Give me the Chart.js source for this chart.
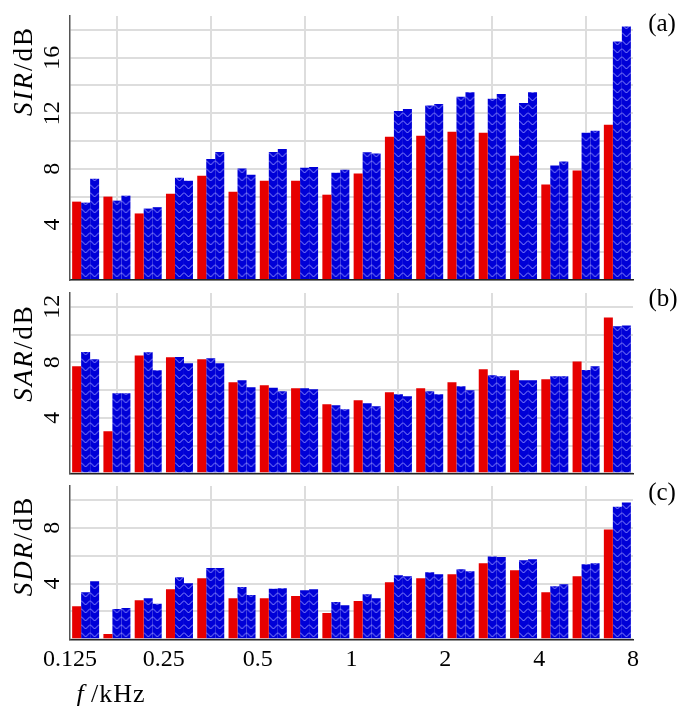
<!DOCTYPE html>
<html>
<head>
<meta charset="utf-8">
<script src="https://cdn.jsdelivr.net/npm/chart.js@4.4.1/dist/chart.umd.min.js"></script>
<style>
  html, body { margin: 0; padding: 0; background: #fff; width: 692px; height: 706px; overflow: hidden; }
  .wrap { position: absolute; left: 0; width: 692px; }
  canvas { display: block; }
  .lbl { position: absolute; font-family: "Liberation Serif", "Times New Roman", serif; color: #000;
         white-space: nowrap; line-height: 1; transform: translate(-50%, -50%); z-index: 5; }
  .ylab { transform: translate(-50%, -50%) rotate(-90deg); font-size: 27px; letter-spacing: 2px; }
  .plab { font-size: 25px; }
</style>
</head>
<body>
<div class="wrap" style="top:0px;height:286px"><canvas id="cA" width="692" height="286"></canvas></div>
<div class="wrap" style="top:286px;height:194px"><canvas id="cB" width="692" height="194"></canvas></div>
<div class="wrap" style="top:480px;height:226px"><canvas id="cC" width="692" height="226"></canvas></div>

<div class="lbl ylab" style="left:23px;top:71px"><i>SIR</i>/dB</div>
<div class="lbl ylab" style="left:23px;top:353px"><i>SAR</i>/dB</div>
<div class="lbl ylab" style="left:23px;top:546px"><i>SDR</i>/dB</div>
<div class="lbl plab" style="left:662px;top:22px">(a)</div>
<div class="lbl plab" style="left:663px;top:297px">(b)</div>
<div class="lbl plab" style="left:662px;top:491px">(c)</div>
<div class="lbl" style="left:111px;top:694px;font-size:26px;letter-spacing:1px"><i>f</i>&#8201;/kHz</div>

<script>
// ---- data ----
const bands = ['0.125','0.16','0.2','0.25','0.315','0.4','0.5','0.63','0.8','1','1.25','1.6','2','2.5','3.15','4','5','6.3'];
const xTickLabels = ['0.125','0.25','0.5','1','2','4','8'];

const sirRed   = [5.64, 6.00, 4.79, 6.21, 7.50, 6.36, 7.14, 7.14, 6.14, 7.67, 10.31, 10.38, 10.67, 10.60, 8.95, 6.88, 7.88, 11.17];
const sirBlue1 = [5.57, 5.71, 5.14, 7.36, 8.71, 8.02, 9.21, 8.07, 7.71, 9.19, 12.17, 12.55, 13.19, 13.05, 12.74, 8.24, 10.60, 17.17];
const sirBlue2 = [7.29, 6.07, 5.24, 7.14, 9.21, 7.57, 9.43, 8.14, 7.93, 9.10, 12.31, 12.67, 13.52, 13.38, 13.52, 8.52, 10.74, 18.24];

const sarRed   = [7.71, 3.04, 8.50, 8.36, 8.22, 6.56, 6.35, 6.13, 4.98, 5.27, 5.84, 6.13, 6.56, 7.50, 7.43, 6.78, 8.07, 11.23];
const sarBlue1 = [8.74, 5.77, 8.72, 8.38, 8.29, 6.71, 6.16, 6.13, 4.91, 5.05, 5.70, 5.92, 6.28, 7.07, 6.71, 6.99, 7.45, 10.61];
const sarBlue2 = [8.22, 5.77, 7.43, 7.93, 7.93, 6.20, 5.92, 6.06, 4.62, 4.84, 5.56, 5.70, 5.99, 6.99, 6.71, 6.99, 7.71, 10.66];

const sdrRed   = [2.38, 0.38, 2.81, 3.60, 4.38, 2.95, 2.95, 3.10, 1.88, 2.74, 4.10, 4.38, 4.67, 5.45, 4.95, 3.38, 4.52, 7.88];
const sdrBlue1 = [3.38, 2.17, 2.95, 4.45, 5.12, 3.76, 3.62, 3.52, 2.67, 3.24, 4.60, 4.81, 5.02, 5.95, 5.67, 3.81, 5.38, 9.52];
const sdrBlue2 = [4.17, 2.24, 2.55, 4.02, 5.12, 3.17, 3.67, 3.60, 2.45, 2.95, 4.52, 4.67, 4.88, 5.90, 5.74, 3.95, 5.45, 9.81];

// ---- style ----
const RED = 'rgb(230,0,0)';
const BLUE = 'rgb(0,0,215)';
const HATCH = 'rgba(150,150,255,0.95)';
const GRID = 'rgb(221,221,221)';
const FONT_FAMILY = '"Liberation Serif", "Times New Roman", serif';
const TICK_SIZE = 24;
const CAT_PCT = 27 / (563 / 18);
const Y_AXIS_W = 70;
const LABEL_CENTER_X = 52.5;

const xTickPos = xTickLabels.map(l => Math.log2(parseFloat(l)));

const measureCtx = document.createElement('canvas').getContext('2d');
measureCtx.font = TICK_SIZE + 'px ' + FONT_FAMILY;

function chevronPattern(ctx, left, w) {
  const W = Math.max(2, Math.round(w));
  const H = 8, D = 4.5;
  const t = document.createElement('canvas');
  t.width = W; t.height = H;
  const g = t.getContext('2d');
  g.fillStyle = BLUE;
  g.fillRect(0, 0, W, H);
  g.strokeStyle = HATCH;
  g.lineWidth = 1;
  for (const oy of [-H, 0, H]) {
    g.beginPath();
    g.moveTo(0, oy + 0.5);
    g.lineTo(W / 2, oy + 0.5 + D);
    g.lineTo(W, oy + 0.5);
    g.stroke();
  }
  const p = ctx.createPattern(t, 'repeat');
  p.setTransform(new DOMMatrix([1, 0, 0, 1, left, 0]));
  return p;
}

function blueFill(k) {
  return (c) => {
    const chart = c.chart;
    const xs = chart.scales && chart.scales.x;
    if (!xs || c.dataIndex === undefined || !xs.width) return BLUE;
    const catW = xs.width / bands.length;
    const size = catW * CAT_PCT;
    const chunk = size / 3;
    const left = xs.getPixelForValue(c.dataIndex) - size / 2 + chunk * k;
    return chevronPattern(chart.ctx, left, chunk);
  };
}

function makePanel(id, red, b1, b2, yMax, yLabels, showX, pad) {
  const widest = Math.max(...yLabels.map(v => measureCtx.measureText(String(v)).width));
  const tickPad = LABEL_CENTER_X > 0 ? (Y_AXIS_W - LABEL_CENTER_X - widest / 2) : 0;
  const xh = showX ? 40 : 0;
  new Chart(document.getElementById(id), {
    type: 'bar',
    data: {
      labels: bands,
      datasets: [
        { label: 'red', data: red, backgroundColor: RED, xAxisID: 'x', yAxisID: 'y', borderWidth: 0 },
        { label: 'blue1', data: b1, backgroundColor: blueFill(1), xAxisID: 'x', yAxisID: 'y', borderWidth: 0 },
        { label: 'blue2', data: b2, backgroundColor: blueFill(2), xAxisID: 'x', yAxisID: 'y', borderWidth: 0 }
      ]
    },
    options: {
      responsive: false,
      animation: false,
      events: [],
      layout: { padding: pad },
      datasets: { bar: { categoryPercentage: CAT_PCT, barPercentage: 1.0 } },
      plugins: { legend: { display: false }, tooltip: { enabled: false } },
      scales: {
        x: { type: 'category', labels: bands, offset: true, display: false, grid: { display: false } },
        xg: {
          type: 'linear', position: 'bottom', min: -3, max: 3, offset: false,
          afterBuildTicks: s => { s.ticks = xTickPos.map(v => ({ value: v })); },
          ticks: {
            display: showX, autoSkip: false, maxRotation: 0, minRotation: 0, padding: 6,
            color: '#000', font: { family: FONT_FAMILY, size: TICK_SIZE, lineHeight: 1.2 },
            callback: (v) => { const i = xTickPos.indexOf(v); return i >= 0 ? xTickLabels[i] : ''; }
          },
          grid: {
            drawTicks: false, lineWidth: 2,
            color: (c) => (c.tick && c.tick.value === -3) ? 'rgba(0,0,0,0)' : GRID
          },
          border: { display: true, color: '#222', width: 1.5, z: 1 },
          afterFit: s => { s.height = xh; s.paddingLeft = 0; s.paddingRight = 0; }
        },
        y: {
          type: 'linear', min: 0, max: yMax, stacked: false,
          ticks: {
            stepSize: 2, includeBounds: false, autoSkip: false,
            minRotation: 90, maxRotation: 90, crossAlign: 'center', padding: tickPad,
            color: '#000', font: { family: FONT_FAMILY, size: TICK_SIZE, lineHeight: 1.2 },
            callback: (v) => yLabels.includes(v) ? String(v) : ''
          },
          grid: { drawTicks: false, lineWidth: 2, color: GRID },
          border: { display: true, color: '#555', width: 1.5, z: 1 },
          afterFit: s => { s.width = Y_AXIS_W; s.paddingTop = 0; s.paddingBottom = 0; }
        }
      }
    }
  });
}

makePanel('cA', sirRed, sirBlue1, sirBlue2, 19, [4, 8, 12, 16], false, { top: 16, right: 59, bottom: 6, left: 0 });
makePanel('cB', sarRed, sarBlue1, sarBlue2, 13, [4, 8, 12], false, { top: 7, right: 59, bottom: 6.7, left: 0 });
makePanel('cC', sdrRed, sdrBlue1, sdrBlue2, 11, [4, 8], true, { top: 6, right: 59, bottom: 26.7, left: 0 });
</script>
</body>
</html>
